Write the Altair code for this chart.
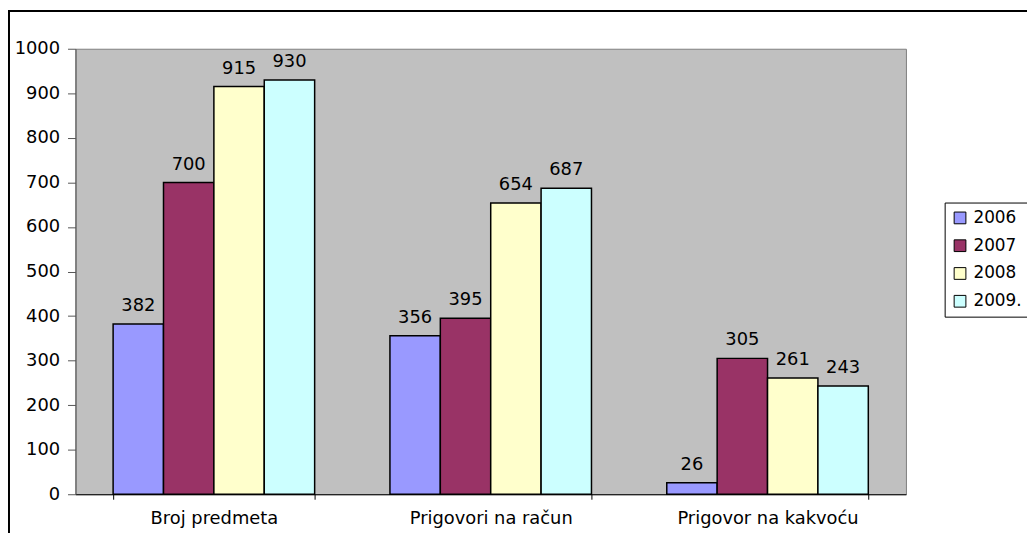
import altair as alt
import pandas as pd

categories = ["Broj predmeta", "Prigovori na račun", "Prigovor  na kakvoću"]
years = ["2006", "2007", "2008", "2009."]
v2006 = [382, 356, 26]
v2007 = [700, 395, 305]
v2008 = [915, 654, 261]
v2009 = [930, 687, 243]
colors = ["#9999FF", "#993366", "#FFFFCC", "#CCFFFF"]

rows = []
for i, c in enumerate(categories):
    for y, vals in zip(years, [v2006, v2007, v2008, v2009]):
        rows.append({"kategorija": c, "godina": y, "vrijednost": vals[i]})
df = pd.DataFrame(rows)

W, H = 837, 449
FONT = "DejaVu Sans"
FS = 18

x = alt.X(
    "kategorija:N",
    sort=categories,
    scale=alt.Scale(paddingInner=0.272, paddingOuter=0.136),
    axis=alt.Axis(
        title=None, labelAngle=0, tickBand="extent", tickSize=5,
        tickColor="black", domainColor="black", domainWidth=1,
        labelPadding=10, labelFontSize=FS, labelFont=FONT, labelColor="black",
        labelLimit=0,
    ),
)
y = alt.Y(
    "vrijednost:Q",
    scale=alt.Scale(domain=[0, 1000]),
    axis=alt.Axis(
        title=None, grid=False, values=list(range(0, 1001, 100)), format="d",
        tickSize=8, tickColor="#555555", domainColor="#555555", labelPadding=8,
        labelFontSize=FS, labelFont=FONT, labelColor="black",
    ),
)
color = alt.Color(
    "godina:N",
    sort=years,
    scale=alt.Scale(domain=years, range=colors),
    legend=alt.Legend(
        orient="none", legendX=876, legendY=155, title=None,
        strokeColor="black", fillColor="white", padding=7,
        symbolType="square", symbolSize=140, symbolStrokeColor="black",
        symbolStrokeWidth=1, symbolOpacity=1, labelFontSize=17, labelFont=FONT,
        labelColor="black", rowPadding=10, labelOffset=5, labelLimit=0,
    ),
)

base = alt.Chart(df).encode(x=x, xOffset=alt.XOffset("godina:N", sort=years))

bars = base.mark_bar(stroke="black", strokeWidth=1.5).encode(y=y, color=color)
labels = base.mark_text(
    dy=-13, baseline="alphabetic", fontSize=FS, font=FONT, color="black"
).encode(y=alt.Y("vrijednost:Q"), text=alt.Text("vrijednost:Q"))

frame_df = pd.DataFrame({"a": [0]})
top_line = alt.Chart(frame_df).mark_rule(color="black", strokeWidth=2).encode(
    x=alt.value(-68), x2=alt.value(W + 122), y=alt.value(-38)
)
left_line = alt.Chart(frame_df).mark_rule(color="black", strokeWidth=2).encode(
    x=alt.value(-67), y=alt.value(-39), y2=alt.value(H + 39)
)

chart = (
    alt.layer(bars, labels, top_line, left_line)
    .properties(
        width=W, height=H,
        autosize=alt.AutoSizeParams(type="none"),
        padding={"left": 68, "top": 39, "right": 122, "bottom": 39},
        background="white",
    )
    .configure_view(fill="#C0C0C0", stroke="#808080", strokeWidth=1)
)

chart.save("out.html", embed_options={"renderer": "svg", "actions": False})
